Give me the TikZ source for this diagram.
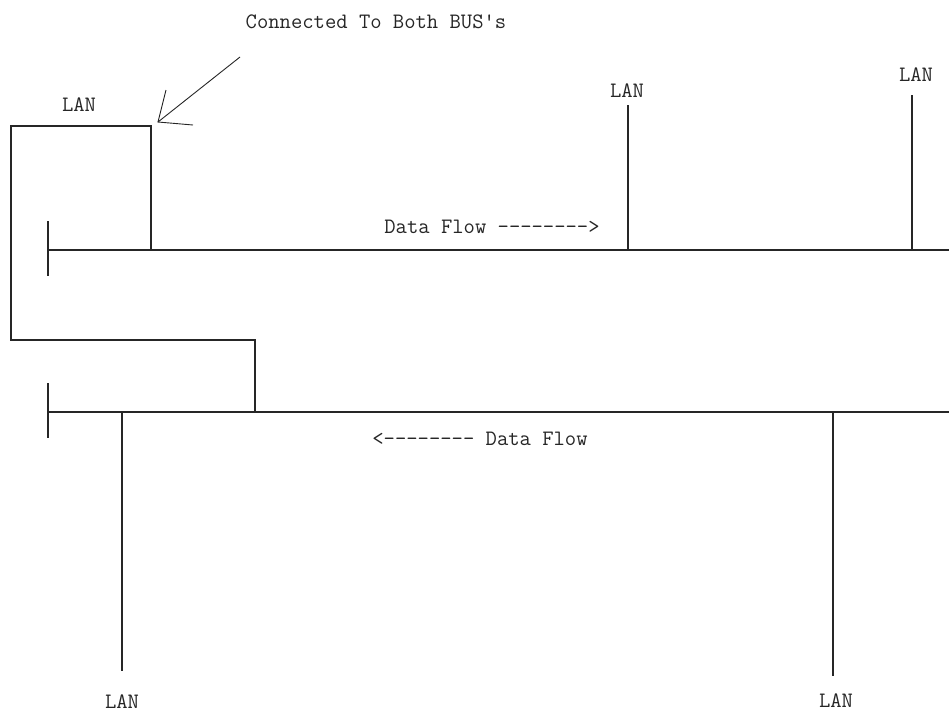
\documentclass[tikz,border=0pt]{standalone}
\usepackage{fontspec}
\begin{document}
\begin{tikzpicture}[x=1pt,y=-1pt,
  wire/.style={draw=black!85,line width=1.1pt},
  lbl/.style={font=\ttfamily\fontsize{22}{24}\selectfont,text=black!85,inner sep=0pt,anchor=center}]
\useasboundingbox (0,0) rectangle (949,713);
% coordinates
\coordinate (tbL) at (48,250);
\coordinate (tbR) at (949,250);
\coordinate (tt1) at (48,221);
\coordinate (tt2) at (48,276);
\coordinate (bbL) at (48,412);
\coordinate (bbR) at (949,412);
\coordinate (bt1) at (48,383);
\coordinate (bt2) at (48,438);
\coordinate (b1) at (11,126);
\coordinate (b2) at (151,126);
\coordinate (b3) at (151,250);
\coordinate (b4) at (11,340);
\coordinate (b5) at (255,340);
\coordinate (b6) at (255,412);
\coordinate (d1t) at (628,105);
\coordinate (d1b) at (628,250);
\coordinate (d2t) at (912,95);
\coordinate (d2b) at (912,250);
\coordinate (d3t) at (122,412);
\coordinate (d3b) at (122,671);
\coordinate (d4t) at (833,412);
\coordinate (d4b) at (833,676);
\coordinate (aS) at (240,57);
\coordinate (aT) at (158,122);
\coordinate (aB1) at (166,90);
\coordinate (aB2) at (193,125);
% buses
\draw[wire] (tbL) -- (tbR);
\draw[wire] (tt1) -- (tt2);
\draw[wire] (bbL) -- (bbR);
\draw[wire] (bt1) -- (bt2);
% LAN connected to both
\draw[wire] (b3) -- (b2) -- (b1) -- (b4) -- (b5) -- (b6);
% drops
\draw[wire] (d1t) -- (d1b);
\draw[wire] (d2t) -- (d2b);
\draw[wire] (d3t) -- (d3b);
\draw[wire] (d4t) -- (d4b);
% pointer arrow
\draw[wire,line width=0.9pt] (aS) -- (aT);
\draw[wire,line width=0.9pt] (aB1) -- (aT) -- (aB2);
% labels
\node[lbl] (cap) at (376,22) {Connected To Both BUS's};
\node[lbl] (lan0) at (79,105) {LAN};
\node[lbl] (lan1) at (627,91) {LAN};
\node[lbl] (lan2) at (916,75) {LAN};
\node[lbl] (lan3) at (122,702) {LAN};
\node[lbl] (lan4) at (836,701) {LAN};
\node[lbl] (df1) at (492,227) {Data Flow -------->};
\node[lbl] (df2) at (480,439) {<-------- Data Flow};
\end{tikzpicture}
\end{document}
